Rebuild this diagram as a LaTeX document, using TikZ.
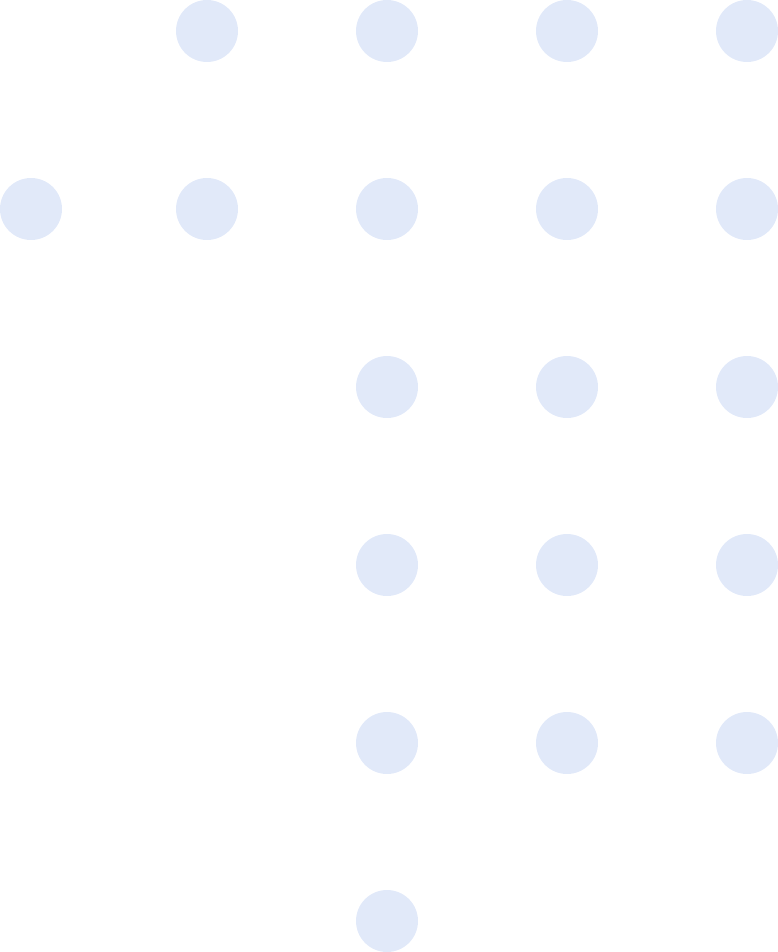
\documentclass[tikz,border=0pt]{standalone}
\definecolor{dotblue}{HTML}{E1E9F9}
\begin{document}
\begin{tikzpicture}[x=1pt,y=-1pt,dot/.style={fill=dotblue,draw=none}]
\useasboundingbox (0,0) rectangle (778,952);
\foreach \x in {207,387,567,747} \fill[dot] (\x,31) circle (31);
\foreach \x in {31,207,387,567,747} \fill[dot] (\x,209) circle (31);
\foreach \y in {387,565,743} \foreach \x in {387,567,747} \fill[dot] (\x,\y) circle (31);
\fill[dot] (387,921) circle (31);
\end{tikzpicture}
\end{document}
